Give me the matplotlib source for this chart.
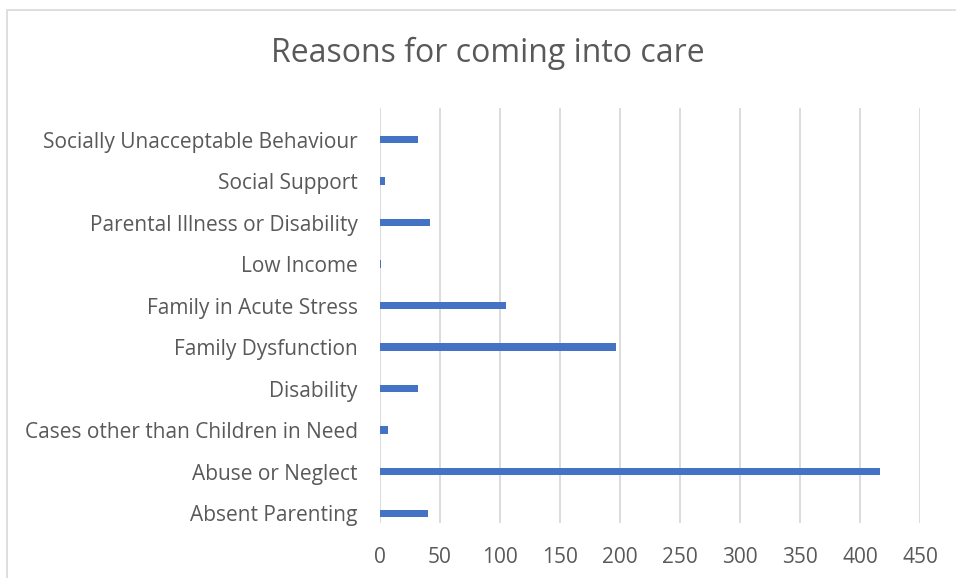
import matplotlib.pyplot as plt
from matplotlib.patches import Rectangle

plt.rcParams['font.family'] = ['Open Sans', 'DejaVu Sans']

# categories listed bottom to top, as drawn on the chart
reasons = [
    "Absent Parenting",
    "Abuse or Neglect",
    "Cases other than Children in Need",
    "Disability",
    "Family Dysfunction",
    "Family in Acute Stress",
    "Low Income",
    "Parental Illness or Disability",
    "Social Support",
    "Socially Unacceptable Behaviour",
]
counts = [40, 417, 7, 32, 197, 105, 1, 42, 4, 32]
x_ticks = [0, 50, 100, 150, 200, 250, 300, 350, 400, 450]

text_color = "#595959"
grid_color = "#d9d9d9"
bar_color = "#4472c4"

fig = plt.figure(figsize=(9.56, 5.78), dpi=100)
ax = fig.add_axes([380 / 956, 1 - 523 / 578, 540 / 956, 415 / 578])

ax.barh(range(len(reasons)), counts, height=0.18, color=bar_color, zorder=3)

ax.set_xlim(0, 450)
# bars sit low in their band (Excel cluster offset)
ax.set_ylim(-0.235, len(reasons) - 1 + 0.76)
ax.set_xticks(x_ticks)
ax.set_yticks(range(len(reasons)))
ax.set_yticklabels(reasons)
ax.grid(axis="x", color=grid_color, linewidth=1.3, zorder=0)
ax.tick_params(axis="both", length=0, colors=text_color, labelsize=15)
ax.tick_params(axis="y", pad=16)
ax.tick_params(axis="x", pad=17)
for s in ax.spines.values():
    s.set_visible(False)

fig.text(488 / 956, 1 - 53 / 578, "Reasons for coming into care",
         ha="center", va="center", fontsize=23, color=text_color)

# chart area border (cropped on the right and bottom)
fig.patches.append(Rectangle((7 / 956, -0.1), 1.1, 0.1 + (578 - 10) / 578,
                             transform=fig.transFigure, fill=False,
                             edgecolor=grid_color, linewidth=1.2))

fig.savefig("out.png", dpi=100)
